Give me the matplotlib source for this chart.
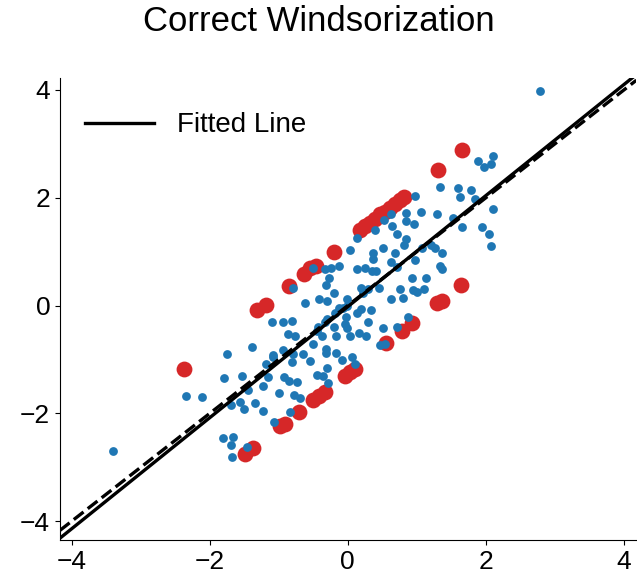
import numpy as np
import matplotlib
matplotlib.use("Agg")
import matplotlib.pyplot as plt

plt.rcParams['font.family'] = ['Liberation Sans', 'DejaVu Sans']

# kept (blue) points
blue_x = [-3.40, -2.34, -2.11, -1.79, -1.75, -1.69, -1.56, -1.51, -1.81, -1.66,
          -1.69, -1.68, -1.46, -1.53, -1.45,
          -1.39, -1.10, -0.94, -0.81, -0.43, -0.45, -0.38, -0.17, -0.87, -0.77,
          -1.09, -1.09, -0.94, -0.80, -0.65, -0.51, -0.32, -0.32, -0.17, -0.81,
          -0.55, -1.19, -0.30, -0.45, -0.36, -0.29, -1.16, -0.93, -0.85, -0.74,
          -1.23, -1.00, -0.78, -0.69, -1.35, -1.23, -0.84, -1.07,
          -0.51, -0.80, -0.33, -0.25, -0.13, -0.27, -0.32, -0.20, -0.41, -0.30,
          -0.62, -0.30, -0.33,
          0.03, 0.36, 0.51, 0.68, 0.36, 0.62, 0.98, 0.25, 0.14, 0.35,
          0.41, 0.72, 0.93, 1.13, 0.45, 0.75, 0.94, 1.00, 1.11, 0.80,
          0.62, 0.19, 0.22, 0.29, -0.01, -0.07, 0.13, 0.19, 0.33, -0.03,
          -0.04, 0.29, 0.87, 0.51, 0.72, 0.03, 0.27, -0.01, -0.19, -0.13,
          -0.20, -0.01, 0.16, 0.46, 0.54, -0.09, 0.06, 0.10, 0.14,
          1.33, 1.59, 1.79, 1.62, 1.84, 0.97, 2.10, 1.29, 1.06, 0.85,
          0.62, 0.52, 0.85, 0.96, 1.52, 1.66, 1.95, 2.05, 2.08, 0.39,
          0.64, 0.71, 0.85, 0.81, 1.07, 1.20, 1.26, 1.37, 1.33, 1.36,
          2.11, 1.88, 1.97, 2.07, 2.78]
blue_y = [-2.70, -1.67, -1.70, -1.35, -0.89, -1.85, -1.78, -1.91, -2.46, -2.44,
          -2.59, -2.81, -2.63, -1.30, -1.56,
          -0.76, -0.31, -0.30, -0.28, -0.39, -0.48, -0.56, -0.56, -0.52, -0.57,
          -0.91, -0.96, -0.83, -0.89, -0.89, -0.72, -0.81, -0.87, -0.87, -1.04,
          -1.02, -1.09, -1.15, -1.28, -1.31, -1.44, -1.33, -1.33, -1.39, -1.41,
          -1.50, -1.63, -1.65, -1.72, -1.81, -1.96, -1.98, -2.15,
          0.70, 0.33, 0.67, 0.70, 0.74, 0.52, 0.39, 0.24, 0.13, 0.09,
          0.04, -0.24, -0.31,
          1.04, 0.98, 1.07, 0.98, 0.87, 0.81, 0.85, 0.70, 0.67, 0.65,
          0.65, 0.72, 0.52, 0.52, 0.33, 0.31, 0.28, 0.26, 0.30, 0.15,
          0.13, 0.33, 0.24, 0.30, 0.13, -0.04, -0.13, -0.06, -0.09, -0.22,
          -0.35, -0.31, -0.22, -0.41, -0.39, -0.57, -0.57, 0.00, -0.13, -0.04,
          -0.39, -0.41, -0.50, -0.74, -0.72, -1.00, -0.96, -1.09, 1.26,
          2.20, 2.19, 2.15, 2.02, 1.98, 2.04, 1.80, 1.70, 1.74, 1.72,
          1.70, 1.59, 1.56, 1.52, 1.63, 1.46, 1.46, 1.33, 1.11, 1.41,
          1.48, 1.33, 1.24, 1.13, 1.06, 1.13, 1.07, 0.98, 0.74, 0.67,
          2.78, 2.69, 2.57, 2.63, 3.98]

# clipped (red) points
red_x = [-2.37, -1.32, -1.19, -0.85, -0.64, -0.55, -0.46, -0.20, 0.17, 0.25,
         0.32, 0.39, 0.46, 0.54, 0.61, 0.68, 0.75, 0.81, 1.30, 1.65,
         -1.49, -1.37, -0.98, -0.91, -0.71, -0.51, -0.42, -0.33, -0.04, 0.03,
         0.10, 0.56, 0.78, 0.93, 1.29, 1.37, 1.64]
red_y = [-1.17, -0.09, 0.02, 0.37, 0.59, 0.70, 0.74, 1.00, 1.41, 1.48,
         1.54, 1.61, 1.69, 1.74, 1.81, 1.89, 1.96, 2.02, 2.52, 2.89,
         -2.76, -2.65, -2.24, -2.19, -1.98, -1.76, -1.67, -1.61, -1.31, -1.24,
         -1.17, -0.70, -0.48, -0.33, 0.04, 0.09, 0.39]

# lines: fitted (solid) and reference (dashed)
fit_slope, fit_icept = 1.03, -0.02
ref_slope, ref_icept = 1.0, 0.0
x_limits = (-4.17, 4.18)
y_limits = (-4.35, 4.22)
ticks = [-4, -2, 0, 2, 4]

fig = plt.figure(figsize=(6.37, 5.74), dpi=100)
ax = fig.add_axes([0.094, 0.059, 0.905, 0.805])

ax.scatter(red_x, red_y, s=130, color='#d62728', linewidths=0, zorder=2)
ax.scatter(blue_x, blue_y, s=40, color='#1f77b4', linewidths=0, zorder=3)

xs = np.array(x_limits)
ax.plot(xs, fit_slope * xs + fit_icept, color='black', lw=2.4, zorder=4,
        label='Fitted Line')
ax.plot(xs, ref_slope * xs + ref_icept, color='black', lw=2.4, ls='--', zorder=4)

ax.set_xlim(x_limits)
ax.set_ylim(y_limits)
ax.set_xticks(ticks)
ax.set_yticks(ticks)
ax.tick_params(labelsize=19)
ax.spines['top'].set_visible(False)
ax.spines['right'].set_visible(False)

ax.legend(loc='upper left', bbox_to_anchor=(0.0, 0.98), frameon=False,
          fontsize=20, handlelength=2.5, borderaxespad=0.5)
fig.suptitle('Correct Windsorization', fontsize=25, y=0.962, va='center')

fig.savefig('out.png', dpi=100)
